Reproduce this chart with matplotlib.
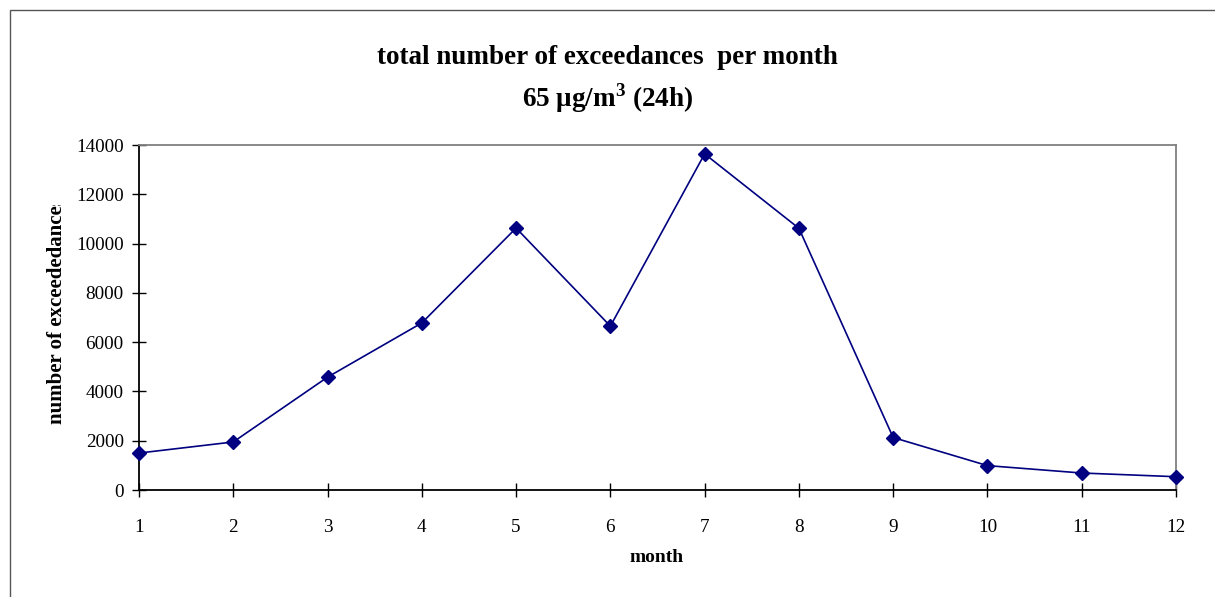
import matplotlib.pyplot as plt
from matplotlib.patches import Rectangle

plt.rcParams['font.family'] = 'Liberation Serif'
plt.rcParams['mathtext.fontset'] = 'custom'
plt.rcParams['mathtext.rm'] = 'Liberation Serif'
plt.rcParams['mathtext.bf'] = 'Liberation Serif:bold'

# monthly totals
months = [1, 2, 3, 4, 5, 6, 7, 8, 9, 10, 11, 12]
exceedances = [1500, 1950, 4580, 6780, 10630, 6650, 13640, 10620, 2130, 990, 690, 540]
y_ticks = [0, 2000, 4000, 6000, 8000, 10000, 12000, 14000]

fig = plt.figure(figsize=(12.15, 5.97), dpi=100)
ax = fig.add_axes([0.1144, 0.1792, 0.8535, 0.5779])

# outer chart border
fig.patches.append(Rectangle((10 / 1215, -0.05), 1.1, 1 - 10 / 597 + 0.05,
                             transform=fig.transFigure, fill=False,
                             edgecolor='#555555', linewidth=1))

ax.plot(months, exceedances, color='#000080', linewidth=1.2,
        marker='D', markersize=7, clip_on=False, zorder=5)

ax.set_xlim(1, 12)
ax.set_ylim(0, 14000)
ax.set_xticks(months)
ax.set_yticks(y_ticks)
ax.tick_params(axis='both', direction='inout', length=10, width=1,
               labelsize=13.8, colors='black')
ax.tick_params(axis='x', pad=16)
ax.tick_params(axis='y', pad=6)

ax.spines['left'].set_color('black')
ax.spines['bottom'].set_color('black')
ax.spines['left'].set_linewidth(1.3)
ax.spines['bottom'].set_linewidth(1.3)
ax.spines['top'].set_color('#808080')
ax.spines['right'].set_color('#808080')
ax.spines['top'].set_linewidth(1.3)
ax.spines['right'].set_linewidth(1.3)

fig.text(657 / 1215, 1 - 557 / 597, 'month', ha='center', va='center',
         fontsize=14, fontweight='bold')

# y label, clipped at its top like the original text box
yl = fig.text(57 / 1215, 1 - 311 / 597, 'number of exceededances', rotation=90,
              ha='center', va='center', fontsize=15, fontweight='bold')
yl.set_clip_path(Rectangle((0, 0), 1, 1 - 205 / 597, transform=fig.transFigure))

fig.text(0.5, 1 - 57 / 597, 'total number of exceedances  per month',
         ha='center', va='center', fontsize=19.5, fontweight='bold')
fig.text(0.5, 1 - 98 / 597, r'65 μg/m$^{\mathbf{3}}$ (24h)',
         ha='center', va='center', fontsize=19.5, fontweight='bold')

fig.savefig('out.png', dpi=100)
